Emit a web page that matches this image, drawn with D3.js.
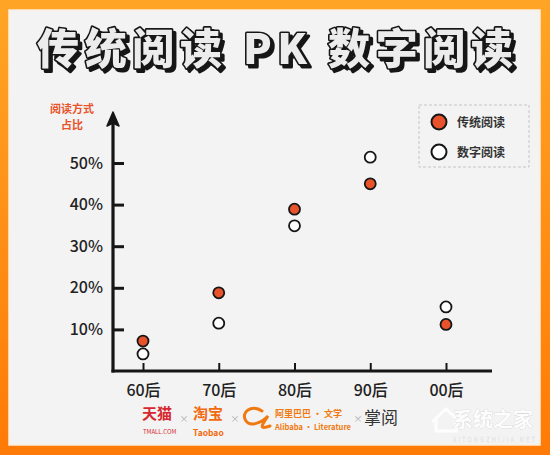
<!DOCTYPE html>
<html>
  <head>
    <meta charset="utf-8" />
    <script src="https://d3js.org/d3.v7.min.js"></script>
    <style>
      body { margin: 0; background: #ff8c14; }
      text { font-family: "Noto Sans CJK SC", "Noto Sans", sans-serif; }
    </style>
    <title>传统阅读 PK 数字阅读</title>
  </head>
  <body>
    <svg id="chart" width="550" height="455"></svg>
    <script>
      var categories = ["60后", "70后", "80后", "90后", "00后"];
      var traditional = [7.2, 18.8, 38.9, 45.0, 11.2];
      var digital = [4.1, 11.5, 34.9, 51.4, 15.4];
      var yTicks = [10, 20, 30, 40, 50];
      var seriesNames = ["传统阅读", "数字阅读"];

      var red = "#e8532b";
      var ink = "#161616";

      var svg = d3.select("#chart");
      var defs = svg.append("defs");

      // orange frame + panel
      var grad = defs.append("linearGradient")
        .attr("id", "frame").attr("x1", 0).attr("y1", 0).attr("x2", 0).attr("y2", 1);
      grad.append("stop").attr("offset", "0%").attr("stop-color", "#ffa526");
      grad.append("stop").attr("offset", "100%").attr("stop-color", "#ff7a06");
      svg.append("rect").attr("width", 550).attr("height", 455).attr("fill", "url(#frame)");
      svg.append("rect")
        .attr("x", 9).attr("y", 10).attr("width", 531).attr("height", 435)
        .attr("fill", "#f3f3f3").attr("stroke", "#fbeedd").attr("stroke-width", 1.5);

      // blocky shadow for the title
      var f = defs.append("filter").attr("id", "block")
        .attr("x", "-5%").attr("y", "-20%").attr("width", "115%").attr("height", "150%");
      f.append("feOffset").attr("in", "SourceAlpha").attr("dx", 3).attr("dy", 3).attr("result", "off");
      f.append("feFlood").attr("flood-color", ink).attr("result", "col");
      f.append("feComposite").attr("in", "col").attr("in2", "off").attr("operator", "in").attr("result", "sh");
      var fm = f.append("feMerge");
      fm.append("feMergeNode").attr("in", "sh");
      fm.append("feMergeNode").attr("in", "SourceGraphic");

      svg.append("text")
        .attr("x", 37).attr("y", 64)
        .attr("textLength", 476).attr("lengthAdjust", "spacing")
        .style("font-size", "42px").style("font-weight", 900)
        .attr("fill", "#ececec").attr("stroke", ink).attr("stroke-width", 3.2)
        .attr("stroke-linejoin", "round").style("paint-order", "stroke")
        .attr("filter", "url(#block)")
        .text("传统阅读 PK 数字阅读");

      var x = d3.scalePoint().domain(categories).range([143, 446]);
      var y = d3.scaleLinear().domain([0, 50]).range([371, 163]);

      // y axis
      var yAxis = d3.axisLeft(y).tickValues(yTicks).tickSize(-11)
        .tickFormat(function (d) { return d + "%"; });
      var gy = svg.append("g").attr("transform", "translate(113,0)").call(yAxis);
      gy.select(".domain").remove();
      gy.selectAll("line").attr("stroke", ink).attr("stroke-width", 3);
      gy.selectAll("text")
        .style("font-size", "16px").style("font-weight", 500).attr("fill", "#222")
        .attr("x", -10);
      svg.append("line")
        .attr("x1", 113).attr("x2", 113).attr("y1", 372.5).attr("y2", 122)
        .attr("stroke", ink).attr("stroke-width", 3.2);
      svg.append("path")
        .attr("d", "M113,112 L107,126 L113,123 L119,126 Z")
        .attr("fill", ink).attr("stroke", ink).attr("stroke-width", 1.5)
        .attr("stroke-linejoin", "round");

      // x axis
      var xAxis = d3.axisBottom(x).tickSize(-8).tickPadding(14);
      var gx = svg.append("g").attr("transform", "translate(0,371)").call(xAxis);
      gx.select(".domain").remove();
      gx.selectAll("line").attr("stroke", ink).attr("stroke-width", 2);
      gx.selectAll("text")
        .style("font-size", "16px").style("font-weight", 500).attr("fill", "#222");
      svg.append("line")
        .attr("x1", 111.5).attr("x2", 492).attr("y1", 371).attr("y2", 371)
        .attr("stroke", ink).attr("stroke-width", 3.2);

      // y label
      svg.append("text").attr("x", 72).attr("y", 113).attr("text-anchor", "middle")
        .style("font-size", "11px").style("font-weight", 700).attr("fill", red)
        .text("阅读方式");
      svg.append("text").attr("x", 72).attr("y", 129).attr("text-anchor", "middle")
        .style("font-size", "11px").style("font-weight", 700).attr("fill", red)
        .text("占比");

      // dots
      var series = [
        { values: traditional, fill: red },
        { values: digital, fill: "#ffffff" },
      ];
      series.forEach(function (s) {
        svg.append("g").selectAll("circle")
          .data(s.values).enter().append("circle")
          .attr("cx", function (d, i) { return x(categories[i]); })
          .attr("cy", function (d) { return y(d); })
          .attr("r", 5.5)
          .attr("fill", s.fill).attr("stroke", ink).attr("stroke-width", 1.8);
      });

      // legend
      var lg = svg.append("g").attr("transform", "translate(419,105)");
      lg.append("rect").attr("width", 110).attr("height", 62)
        .attr("fill", "none").attr("stroke", "#c4c4c4").attr("stroke-width", 1)
        .attr("stroke-dasharray", "3,2");
      seriesNames.forEach(function (name, i) {
        lg.append("circle").attr("cx", 20).attr("cy", 17 + i * 30).attr("r", 7.5)
          .attr("fill", series[i].fill).attr("stroke", ink).attr("stroke-width", 2);
        lg.append("text").attr("x", 38).attr("y", 21.5 + i * 30)
          .style("font-size", "12px").style("font-weight", 700).attr("fill", "#333")
          .text(name);
      });

      // sponsor logos along the bottom
      var logos = svg.append("g");
      logos.append("text").attr("x", 142).attr("y", 419)
        .style("font-size", "15px").style("font-weight", 700).attr("fill", "#d7282f").text("天猫");
      logos.append("text").attr("x", 143).attr("y", 434)
        .style("font-size", "6px").attr("fill", "#d7282f").text("TMALL.COM");
      logos.append("text").attr("x", 193).attr("y", 419)
        .style("font-size", "15px").style("font-weight", 700).attr("fill", "#f26a10").text("淘宝");
      logos.append("text").attr("x", 193).attr("y", 436)
        .style("font-size", "8.5px").style("font-weight", 700).attr("fill", "#f26a10").text("Taobao");
      [184, 235, 358].forEach(function (px) {
        logos.append("text").attr("x", px).attr("y", 422).attr("text-anchor", "middle")
          .style("font-size", "9px").attr("fill", "#aaa").text("×");
      });
      logos.append("path")
        .attr("d", "M262,411 C252,404 240,412 246,421 C250,427 262,423 268,416 C262,425 258,430 270,426")
        .attr("fill", "none").attr("stroke", "#f07a12").attr("stroke-width", 3)
        .attr("stroke-linecap", "round");
      logos.append("text").attr("x", 275).attr("y", 417)
        .style("font-size", "9px").style("font-weight", 700).attr("fill", "#f07a12").text("阿里巴巴 · 文学");
      logos.append("text").attr("x", 275).attr("y", 430)
        .attr("textLength", 76).attr("lengthAdjust", "spacingAndGlyphs")
        .style("font-size", "8px").style("font-weight", 700).attr("fill", "#f07a12").text("Alibaba · Literature");
      logos.append("text").attr("x", 364).attr("y", 424)
        .style("font-size", "17px").attr("fill", "#333").text("掌阅");

      // watermark
      var wm = svg.append("g").attr("opacity", 0.9);
      wm.append("path")
        .attr("d", "M432,422 L446,409 L460,422 M436,419 L436,431 L456,431 L456,419")
        .attr("fill", "none").attr("stroke", "#ffffff").attr("stroke-width", 3);
      wm.append("text").attr("x", 453).attr("y", 427)
        .style("font-size", "20px").style("font-weight", 700)
        .attr("fill", "#ffffff").attr("stroke", "#d8d8d8").attr("stroke-width", 0.8)
        .style("paint-order", "stroke")
        .text("系统之家");
      wm.append("text").attr("x", 453).attr("y", 442)
        .style("font-size", "6px").attr("fill", "#ffffff").attr("stroke", "#e0e0e0")
        .attr("stroke-width", 0.4).attr("textLength", 82).text("XITONGZHIJIA.NET");
    </script>
  </body>
</html>
